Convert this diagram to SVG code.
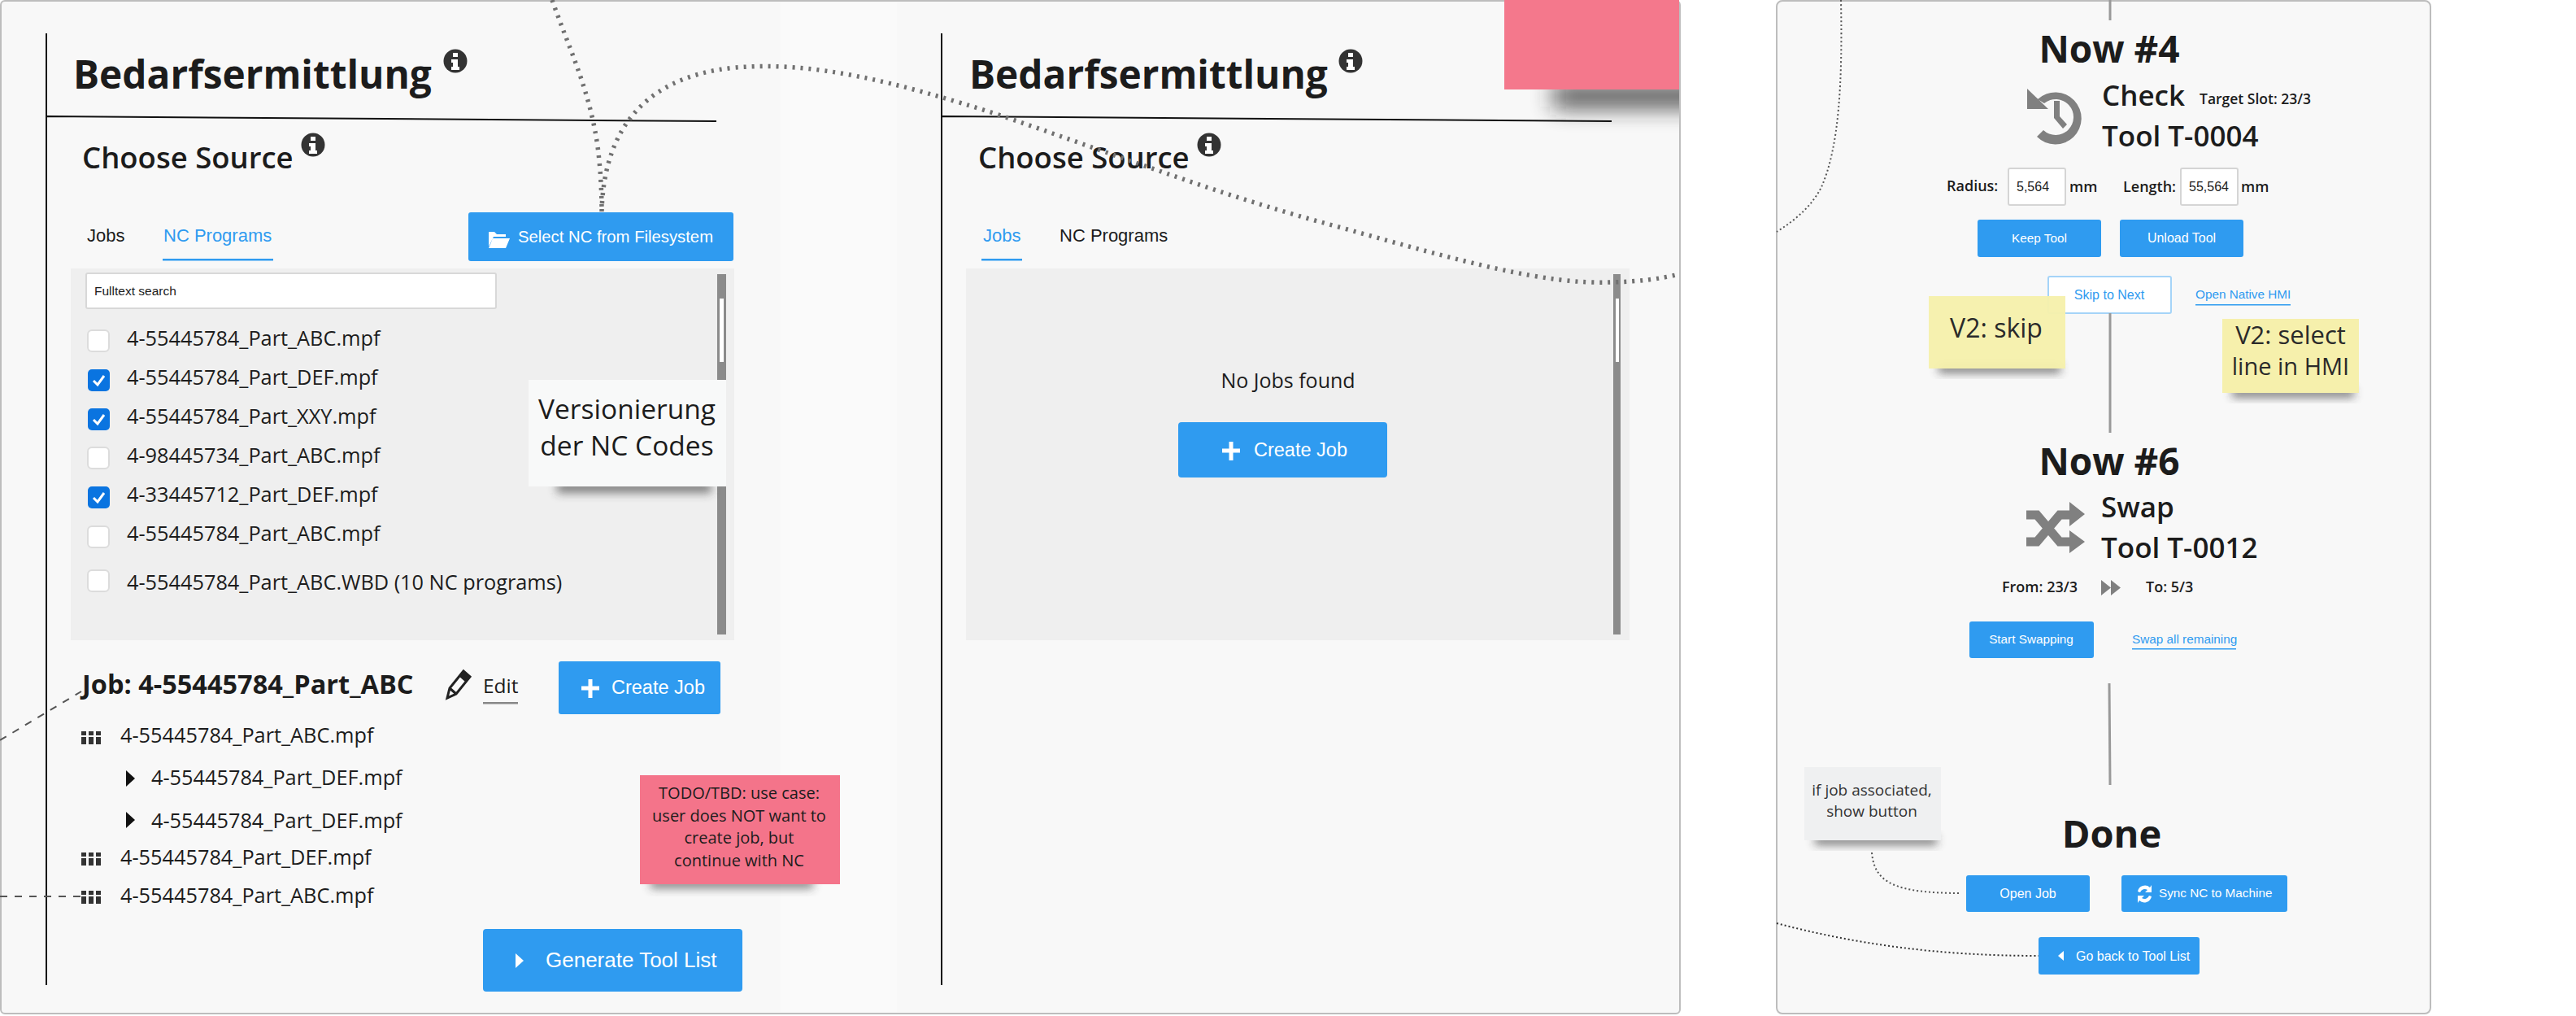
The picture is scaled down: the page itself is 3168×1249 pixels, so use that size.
<svg xmlns="http://www.w3.org/2000/svg" width="3168" height="1249" viewBox="0 0 3168 1249">
<style>
text{font-family:"Open Sans","Noto Sans",sans-serif;fill:#1c1c1c}
.h1{font-size:47.800px;font-weight:700}
.h1s{font-size:46px;font-weight:700}
.h2{font-size:36.500px;font-weight:600}
.h3{font-size:35px;font-weight:600}
.f{font-size:25.300px}
.btn{fill:#2f9bf0}
.bt{font-family:"Liberation Sans",Arial,sans-serif;fill:#fff}
.l{font-family:"Liberation Sans",Arial,sans-serif}
.b15{font-size:15.300px}.b16{font-size:16px}.b20{font-size:20.300px}.b22{font-size:22px}.b23{font-size:23.500px}
.blue{fill:#2f9bf0}
.sm{font-size:18px;font-weight:600}
.ctr{text-anchor:middle}
.gray{fill:#efefef}
.sb{fill:#8b8b8b}
.cb{fill:#fff;stroke:#dcdcdc;stroke-width:2}
.cbx{fill:#0a74e0}
.ck{fill:none;stroke:#fff;stroke-width:3}
.note{fill:#2a2a2a}
.ln{stroke:#111;stroke-width:2;fill:none}
.conn{stroke:#999;stroke-width:3;fill:none}
.dot{fill:none;stroke:#707070;stroke-width:5.500;stroke-dasharray:3 7}
.dotf{fill:none;stroke:#555;stroke-width:2;stroke-dasharray:2 3}
.dash{fill:none;stroke:#555;stroke-width:2;stroke-dasharray:9 9}
.ic{fill:#808080}
.sw{fill:none;stroke:#808080;stroke-width:11}
</style>
<defs>
<filter id="sh" x="-20%" y="-80%" width="140%" height="260%"><feGaussianBlur stdDeviation="6"/></filter>
<filter id="sh2" x="-30%" y="-150%" width="160%" height="400%"><feGaussianBlur stdDeviation="14"/></filter>
<clipPath id="pc"><rect x="0" y="0" width="2065" height="1246"/></clipPath>
<g id="info"><circle r="14.500" fill="#333"/><path d="M-3-10h6v5h-6zM-5-2h8v9h2v4h-10v-4h2v-5h-2z" fill="#fff"/></g>
<g id="grid"><path d="M0 0h6v5h-6zM9 0h6v5h-6zM18 0h6v5h-6zM0 7h6v9h-6zM9 7h6v9h-6zM18 7h6v9h-6z" fill="#333"/></g>
<path id="tri" d="M0 0L11 10L0 20z" fill="#111"/>
<g id="plus"><path d="M-2.500-11h5v8.500h8.500v5h-8.500v9.500h-5v-9.500h-8.500v-5h8.500z" fill="#fff"/></g>
</defs>
<rect width="3168" height="1249" fill="#fff"/>

<g id="panel-a">
<rect x="1" y="1" width="2065" height="1245" rx="5" fill="#f8f8f8" stroke="#bdbdbd" stroke-width="2"/>
<rect x="960" y="3" width="143" height="1241" fill="#fafafa"/>
</g>
<g id="panel-b"><rect x="2185" y="1" width="804" height="1245" rx="7" fill="#f8f8f8" stroke="#bdbdbd" stroke-width="2"/></g>

<g id="screen-nc">
<path class="ln" d="M57 41V1211M58 143L881 149"/>
<text class="h1" x="90" y="109">Bedarfsermittlung</text>
<use href="#info" x="560" y="75"/>
<text class="h2" x="101" y="207">Choose Source</text>
<use href="#info" x="385" y="178"/>
<text class="l b22" x="107" y="297">Jobs</text>
<text class="l b22 blue" x="201" y="297">NC Programs</text>
<rect class="btn" x="200" y="318" width="136" height="2.500"/>
<g id="btn-select"><rect class="btn" x="576" y="261" width="326" height="60" rx="3"/>
<path d="M601 285h7l3 3h11v3h-15l-6 12zM606 293h21l-5 12h-21z" fill="#fff"/>
<text class="bt b20" x="637" y="298">Select NC from Filesystem</text></g>
<rect class="gray" x="87" y="330" width="816" height="457"/>
<rect x="106" y="336" width="504" height="43" rx="2" fill="#fff" stroke="#d8d8d8" stroke-width="2"/>
<text class="l" x="116" y="363" style="font-size:15.500px">Fulltext search</text>
<rect class="sb" x="882" y="337" width="11" height="443"/><rect x="885" y="367" width="5" height="78" fill="#fff"/>
<g id="file-list">
<rect class="cb" x="108" y="406" width="26" height="26" rx="5"/><text class="f" x="156" y="425">4-55445784_Part_ABC.mpf</text>
<rect class="cbx" x="108" y="454" width="27" height="27" rx="5"/><path class="ck" d="M115 468l5 5 8-11"/><text class="f" x="156" y="473">4-55445784_Part_DEF.mpf</text>
<rect class="cbx" x="108" y="502" width="27" height="27" rx="5"/><path class="ck" d="M115 516l5 5 8-11"/><text class="f" x="156" y="521">4-55445784_Part_XXY.mpf</text>
<rect class="cb" x="108" y="550" width="26" height="26" rx="5"/><text class="f" x="156" y="569">4-98445734_Part_ABC.mpf</text>
<rect class="cbx" x="108" y="598" width="27" height="27" rx="5"/><path class="ck" d="M115 612l5 5 8-11"/><text class="f" x="156" y="617">4-33445712_Part_DEF.mpf</text>
<rect class="cb" x="108" y="647" width="26" height="26" rx="5"/><text class="f" x="156" y="665">4-55445784_Part_ABC.mpf</text>
<rect class="cb" x="108" y="701" width="26" height="26" rx="5"/><text class="f" x="156" y="725">4-55445784_Part_ABC.WBD (10 NC programs)</text>
</g>
<g id="note-version">
<rect x="685" y="592" width="190" height="14" fill="#333" opacity=".6" filter="url(#sh)"/>
<rect x="650" y="467" width="243" height="131" fill="#f8f9f9"/>
<text class="ctr" x="771" y="515" style="font-size:33.500px">Versionierung</text>
<text class="ctr" x="771" y="560" style="font-size:33.500px">der NC Codes</text>
</g>
<g id="job">
<text x="101" y="853" style="font-size:32.500px;font-weight:700">Job: 4-55445784_Part_ABC</text>
<path d="M550 858l3-12 17-21 8 7-17 21zM553 846l8 7" fill="#fafafa" stroke="#222" stroke-width="3"/>
<path d="M564 831l8 7 6-7-8-7z" fill="#222"/>
<text x="594" y="852" style="font-size:24.500px">Edit</text>
<rect x="594" y="863" width="43" height="2.500" fill="#888"/>
<g id="btn-create-1"><rect class="btn" x="687" y="813" width="199" height="65" rx="3"/><use href="#plus" x="726" y="846"/><text class="bt b23" x="752" y="853">Create Job</text></g>
<use href="#grid" x="100" y="899"/><text class="f" x="148" y="913">4-55445784_Part_ABC.mpf</text>
<use href="#tri" x="155" y="947"/><text class="f" x="186" y="965">4-55445784_Part_DEF.mpf</text>
<use href="#tri" x="155" y="998"/><text class="f" x="186" y="1018">4-55445784_Part_DEF.mpf</text>
<use href="#grid" x="100" y="1048"/><text class="f" x="148" y="1063">4-55445784_Part_DEF.mpf</text>
<use href="#grid" x="100" y="1095"/><text class="f" x="148" y="1110">4-55445784_Part_ABC.mpf</text>
</g>
<g id="note-todo">
<rect x="800" y="1080" width="200" height="12" fill="#333" opacity=".6" filter="url(#sh)"/>
<rect x="787" y="953" width="246" height="134" fill="#f4748a"/>
<text class="ctr" x="909" y="982" style="font-size:20px">TODO/TBD: use case:</text>
<text class="ctr" x="909" y="1010" style="font-size:20px">user does NOT want to</text>
<text class="ctr" x="909" y="1037" style="font-size:20px">create job, but</text>
<text class="ctr" x="909" y="1065" style="font-size:20px">continue with NC</text>
</g>
<g id="btn-generate"><rect class="btn" x="594" y="1142" width="319" height="77" rx="4"/><path d="M634 1172l10 9-10 9z" fill="#fff"/><text class="bt" x="671" y="1189" style="font-size:26px">Generate Tool List</text></g>
</g>

<g id="screen-jobs">
<path class="ln" d="M1158 41V1211M1159 143L1982 149"/>
<text class="h1" x="1192" y="109">Bedarfsermittlung</text>
<use href="#info" x="1661" y="75"/>
<text class="h2" x="1203" y="207">Choose Source</text>
<use href="#info" x="1487" y="178"/>
<text class="l b22 blue" x="1209" y="297">Jobs</text>
<text class="l b22" x="1303" y="297">NC Programs</text>
<rect class="btn" x="1207" y="318" width="50" height="2.500"/>
<rect class="gray" x="1188" y="330" width="816" height="457"/>
<rect class="sb" x="1984" y="337" width="9" height="443"/><rect x="1987" y="367" width="4" height="78" fill="#fff"/>
<text class="ctr" x="1584" y="477" style="font-size:25px">No Jobs found</text>
<g id="btn-create-2"><rect class="btn" x="1449" y="519" width="257" height="68" rx="4"/><use href="#plus" x="1514" y="554"/><text class="bt b23" x="1542" y="561">Create Job</text></g>
</g>

<g id="note-top">
<g clip-path="url(#pc)"><rect x="1910" y="104" width="230" height="28" fill="#222" opacity=".8" filter="url(#sh2)"/></g>
<rect x="1850" y="0" width="215" height="110" fill="#f4788c"/>
</g>

<g id="step-4">
<text class="h1s ctr" x="2594" y="77">Now #4</text>
<path d="M2493 109L2519 134H2493zM2506 122A32 32 0 1 1 2505 168L2513 160A22 22 0 1 0 2514 127z" class="ic"/><path d="M2526 124h7v19l9 10-5 5-11-13z" class="ic"/>
<text class="h3" x="2585" y="130">Check</text>
<text x="2705" y="128" style="font-size:17.500px;font-weight:600">Target Slot: 23/3</text>
<text class="h3" x="2585" y="180">Tool T-0004</text>
<text class="sm" x="2394" y="235">Radius:</text>
<rect x="2470" y="207" width="70" height="45" rx="2" fill="#fff" stroke="#d5d5d5" stroke-width="2"/>
<text class="l b16" x="2480" y="235">5,564</text>
<text class="sm" x="2545" y="236">mm</text>
<text class="sm" x="2611" y="236">Length:</text>
<rect x="2682" y="207" width="70" height="45" rx="2" fill="#fff" stroke="#d5d5d5" stroke-width="2"/>
<text class="l b16" x="2692" y="235">55,564</text>
<text class="sm" x="2756" y="236">mm</text>
<g id="btn-keep"><rect class="btn" x="2432" y="270" width="152" height="46" rx="3"/><text class="bt b15 ctr" x="2508" y="298">Keep Tool</text></g>
<g id="btn-unload"><rect class="btn" x="2607" y="270" width="152" height="46" rx="3"/><text class="bt b16 ctr" x="2683" y="298">Unload Tool</text></g>
<g id="btn-skip"><rect x="2519" y="340" width="151" height="45" rx="2" fill="#fff" stroke="#a5d4f8" stroke-width="2"/><text class="l b16 blue ctr" x="2594" y="368">Skip to Next</text></g>
<g id="link-hmi"><text class="l b15 blue" x="2700" y="367">Open Native HMI</text><rect class="btn" x="2700" y="374" width="117" height="1.500"/></g>
</g>

<g id="connectors">
<path class="conn" d="M2595 0V25M2595 385V532M2594 840L2595 965"/>
<path class="dot" d="M679 0C700 60 725 110 735 180Q740 220 740 260"/>
<path class="dot" d="M740 260C742 180 775 95 905 83C1000 75 1100 100 1231 142C1400 200 1500 240 1650 280C1800 322 1900 350 1981 347Q2030 346 2065 337"/>
<path class="dotf" d="M2264 0C2266 100 2262 180 2240 230Q2225 260 2185 285"/>
<path class="dotf" d="M2302 1048C2305 1085 2330 1098 2412 1098"/>
<path class="dotf" d="M2185 1135C2280 1160 2380 1175 2507 1175" style="stroke:#333"/>
<path class="dash" d="M0 910L100 850M0 1102H100"/>
</g>

<g id="note-skip">
<rect x="2384" y="448" width="150" height="10" fill="#333" opacity=".7" filter="url(#sh)"/>
<rect x="2372" y="364" width="168" height="89" fill="#f6f0ac" opacity=".96"/>
<text class="note ctr" x="2455" y="415" style="font-size:32px">V2: skip</text>
</g>
<g id="note-hmi">
<rect x="2745" y="478" width="150" height="10" fill="#333" opacity=".7" filter="url(#sh)"/>
<rect x="2733" y="392" width="168" height="91" fill="#f6f0ac"/>
<text class="note ctr" x="2817" y="423" style="font-size:31px">V2: select</text>
<text class="note ctr" x="2817" y="461" style="font-size:29px">line in HMI</text>
</g>

<g id="step-6">
<text class="h1s ctr" x="2594" y="584">Now #6</text>
<path class="sw" d="M2492 633h13l28 33h14M2492 666h13l28-33h14"/>
<path class="ic" d="M2545 617L2564 632L2545 647zM2545 652L2564 666L2545 680z"/>
<text class="h3" x="2584" y="636">Swap</text>
<text class="h3" x="2584" y="686">Tool T-0012</text>
<text class="sm" x="2462" y="728">From: 23/3</text>
<path class="ic" d="M2584 713l12 9.500-12 9.500zM2596 713l12 9.500-12 9.500z"/>
<text class="sm" x="2639" y="728">To: 5/3</text>
<g id="btn-start"><rect class="btn" x="2422" y="764" width="153" height="45" rx="3"/><text class="bt b15 ctr" x="2498" y="791">Start Swapping</text></g>
<g id="link-swap"><text class="l b15 blue" x="2622" y="791">Swap all remaining</text><rect class="btn" x="2622" y="797" width="128" height="1.500"/></g>
</g>

<g id="note-job">
<rect x="2232" y="1028" width="150" height="10" fill="#333" opacity=".7" filter="url(#sh)"/>
<rect x="2219" y="943" width="168" height="90" fill="#eff0f1"/>
<text class="ctr" x="2302" y="978" style="font-size:19px;fill:#333">if job associated,</text>
<text class="ctr" x="2302" y="1004" style="font-size:19px;fill:#333">show button</text>
</g>

<g id="step-done">
<text class="h1 ctr" x="2597" y="1042" style="font-size:47px">Done</text>
<g id="btn-open"><rect class="btn" x="2418" y="1076" width="152" height="45" rx="3"/><text class="bt b16 ctr" x="2494" y="1104">Open Job</text></g>
<g id="btn-sync"><rect class="btn" x="2609" y="1076" width="204" height="45" rx="3"/>
<path d="M2629 1096a9 9 0 0 1 15-5l2-3v9h-8l3-3a6 6 0 0 0-9 3zM2646 1102a9 9 0 0 1-15 5l-2 3v-9h8l-3 3a6 6 0 0 0 9-3z" fill="#fff"/>
<text class="bt b15" x="2655" y="1103">Sync NC to Machine</text></g>
<g id="btn-back"><rect class="btn" x="2507" y="1152" width="198" height="46" rx="3"/><path d="M2538 1169v12l-7-6z" fill="#fff"/><text class="bt b16" x="2553" y="1181">Go back to Tool List</text></g>
</g>
</svg>
